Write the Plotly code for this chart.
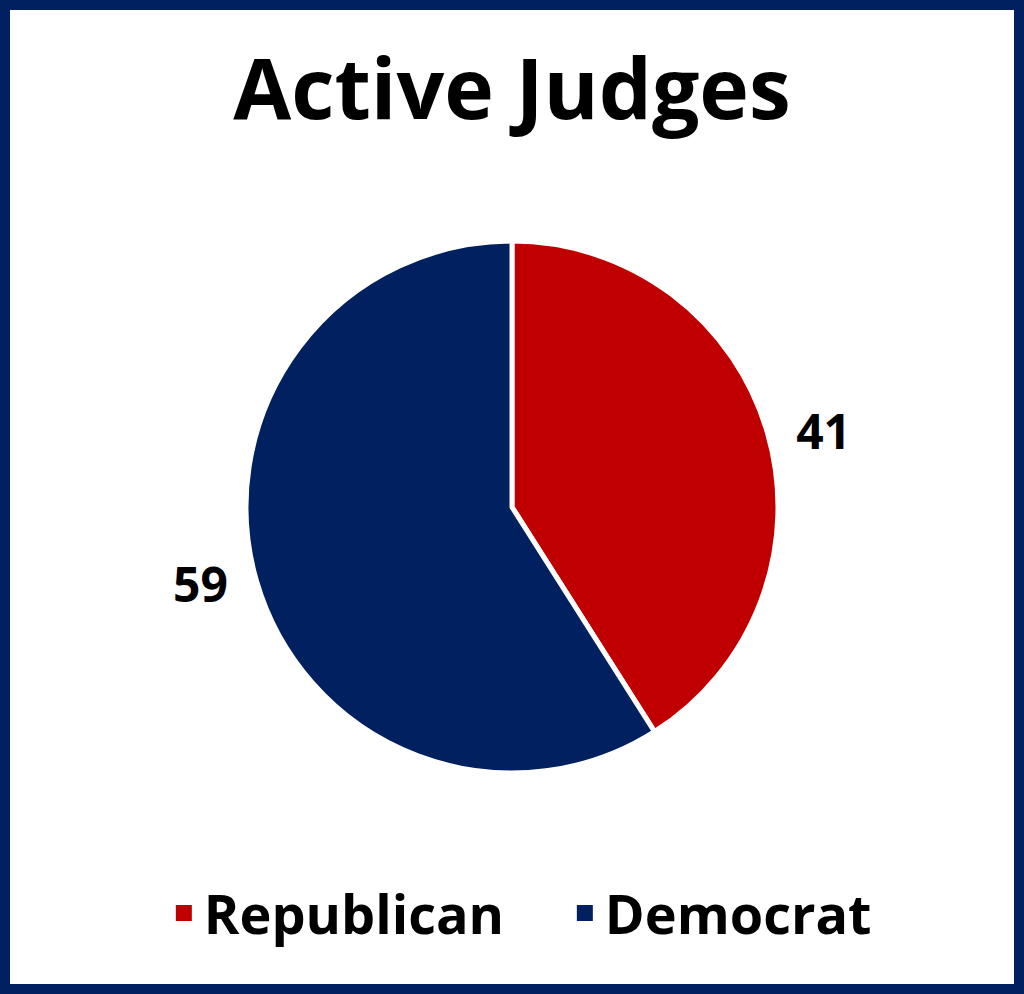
import plotly.graph_objects as go

parties = ["Republican", "Democrat"]
judges = [41, 59]
colors = ["#C00000", "#002060"]
title_text = "Active Judges"

FONT = "Open Sans"

fig = go.Figure()

fig.add_trace(go.Pie(
    labels=parties,
    values=judges,
    sort=False,
    direction="clockwise",
    rotation=0,
    marker=dict(colors=colors, line=dict(color="white", width=5)),
    textinfo="value",
    textposition="outside",
    texttemplate=["\u00a0%{value}", "%{value}\u00a0"],
    textfont=dict(family=FONT, size=48, color="black", weight="bold", shadow="none"),
    showlegend=False,
    hoverinfo="label+value",
    domain=dict(x=[0, 1], y=[0.2223, 0.7575]),
))

for name, col in zip(parties, colors):
    fig.add_trace(go.Scatter(
        x=[None], y=[None], mode="markers", name=name,
        marker=dict(symbol="square", size=16, color=col),
        showlegend=True, hoverinfo="skip",
    ))

fig.update_layout(
    width=1024,
    height=994,
    margin=dict(l=0, r=0, t=0, b=0, pad=0, autoexpand=False),
    paper_bgcolor="white",
    plot_bgcolor="rgba(0,0,0,0)",
    title=dict(
        text=title_text,
        x=0.5, xanchor="center",
        y=0.910, yanchor="middle",
        font=dict(family=FONT, size=84, color="black", weight="bold"),
    ),
    legend=dict(
        orientation="h",
        x=0.160, xanchor="left",
        y=0.081, yanchor="middle",
        font=dict(family=FONT, size=54, color="black", weight="bold"),
        itemsizing="trace",
        traceorder="normal",
        entrywidth=356,
        bgcolor="rgba(0,0,0,0)",
    ),
    xaxis=dict(visible=False),
    yaxis=dict(visible=False),
    shapes=[dict(
        type="rect", xref="paper", yref="paper",
        x0=0, y0=0, x1=1, y1=1,
        line=dict(color="#002060", width=20),
        fillcolor="rgba(0,0,0,0)",
        layer="above",
    )],
)

fig.write_html(
    "out.html",
    config={"displayModeBar": False},
    post_script=(
        "document.body.style.margin='0';"
        "document.body.style.overflow='hidden';"
    ),
)
